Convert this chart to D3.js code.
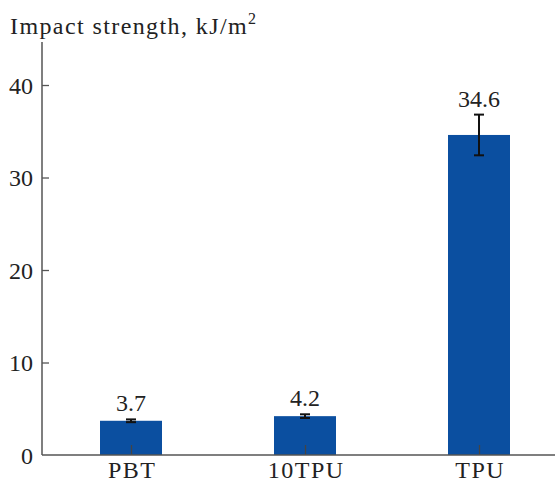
<!DOCTYPE html>
<html><head><meta charset="utf-8">
<script src="https://cdn.jsdelivr.net/npm/d3@7"></script>
<style>body{margin:0;background:#fff} text{font-family:"Liberation Serif","DejaVu Serif",serif}</style>
</head><body>
<svg id="c" width="556" height="482"></svg>
<script>
const categories = ["PBT", "10TPU", "TPU"];
const values = [3.7, 4.2, 34.6];
const errors = [0.15, 0.2, 2.2];
const valueLabels = ["3.7", "4.2", "34.6"];
const yTicks = [0, 10, 20, 30, 40];

(function () {
const svg = d3.select("#c");
const font = "Liberation Serif";
const fs = 24;
const left = 42, right = 555, base = 455, axisTop = 42;

const y = d3.scaleLinear().domain([0, 44.65]).range([base, axisTop]);
const x = d3.scalePoint().domain(categories).range([44, 566]).padding(0.5);
const barW = 62;

// bars
svg.selectAll("rect.bar").data(categories).join("rect")
  .attr("x", d => x(d) - barW / 2)
  .attr("width", barW)
  .attr("y", (d, i) => y(values[i]))
  .attr("height", (d, i) => base - y(values[i]))
  .attr("fill", "#0b4fa0");

// axes
const ya = svg.append("g").attr("transform", `translate(${left},0)`)
  .call(d3.axisRight(y).tickValues(yTicks).tickSize(7).tickSizeOuter(0).tickFormat(d3.format("d")));
ya.attr("font-family", null).attr("font-size", null);
ya.select(".domain").remove();
ya.selectAll(".tick line").attr("stroke", "#555").attr("stroke-width", 1.3);
ya.selectAll(".tick text").attr("x", -9).attr("text-anchor", "end")
  .style("font-family", font).attr("font-size", fs).attr("fill", "#222").attr("dy", "0.35em");
ya.selectAll(".tick").filter(d => d === 0).select("line").remove();

const xa = svg.append("g").attr("transform", `translate(0,${base})`)
  .call(d3.axisTop(x).tickSize(10).tickSizeOuter(0));
xa.attr("font-family", null).attr("font-size", null);
xa.select(".domain").remove();
xa.selectAll(".tick line").attr("stroke", "#444").attr("stroke-width", 1.3);
xa.selectAll(".tick text").attr("y", 23).attr("dy", 0).attr("x", 0.75)
  .style("font-family", font).style("letter-spacing", "1.5px").attr("font-size", fs).attr("fill", "#222");

svg.append("line").attr("x1", left).attr("x2", left).attr("y1", axisTop).attr("y2", base)
  .attr("stroke", "#555").attr("stroke-width", 1.5);
svg.append("line").attr("x1", left).attr("x2", right).attr("y1", base).attr("y2", base)
  .attr("stroke", "#555").attr("stroke-width", 1.5);

// error bars
const eg = svg.selectAll("g.err").data(categories).join("g").attr("class", "err");
eg.append("line")
  .attr("x1", d => x(d)).attr("x2", d => x(d))
  .attr("y1", (d, i) => y(values[i] + errors[i]))
  .attr("y2", (d, i) => y(values[i] - errors[i]))
  .attr("stroke", "#111").attr("stroke-width", 2);
[1, -1].forEach(s => {
  eg.append("line")
    .attr("x1", d => x(d) - 5).attr("x2", d => x(d) + 5)
    .attr("y1", (d, i) => y(values[i] + s * errors[i]))
    .attr("y2", (d, i) => y(values[i] + s * errors[i]))
    .attr("stroke", "#111").attr("stroke-width", 2);
});

// value labels
svg.selectAll("text.val").data(categories).join("text").attr("class", "val")
  .attr("x", d => x(d))
  .attr("y", (d, i) => y(values[i] + errors[i]) - 8)
  .attr("text-anchor", "middle")
  .style("font-family", font).attr("font-size", fs).attr("fill", "#222")
  .text((d, i) => valueLabels[i]);

// title
const t = svg.append("text").attr("x", 10).attr("y", 34)
  .style("font-family", font).style("letter-spacing", "1.4px").attr("font-size", fs).attr("fill", "#222");
t.append("tspan").text("Impact strength, kJ/m");
t.append("tspan").attr("font-size", 16).attr("dy", -10).text("2");
})();
</script>
</body></html>
